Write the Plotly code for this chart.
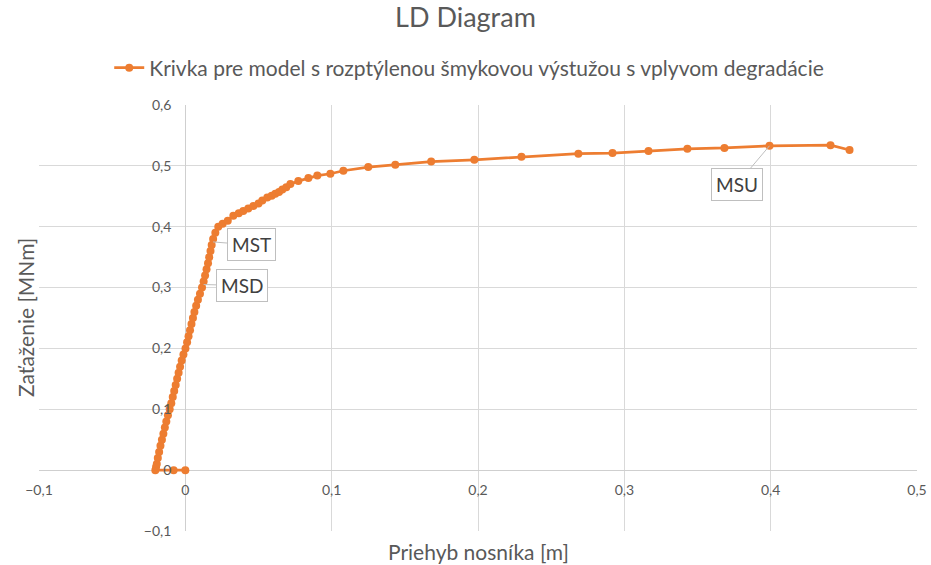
import plotly.graph_objects as go

# Data: deflection [m] and load [MNm]
deflection = [
    0.0, -0.008, -0.0205,
    -0.0200, -0.0195, -0.0188, -0.0179, -0.0170, -0.0160, -0.0150, -0.0140,
    -0.0130, -0.0119, -0.0107, -0.0096, -0.0086, -0.0076, -0.0066, -0.0056,
    -0.0046, -0.0036, -0.0025, -0.0013, 0.0001, 0.0012, 0.0022, 0.0032,
    0.0042, 0.0052, 0.0062, 0.0074, 0.0086, 0.0100, 0.0114, 0.0125,
    0.0135, 0.0145, 0.0155, 0.0163, 0.0172, 0.0180, 0.0190, 0.0205,
    0.0225, 0.0255, 0.0290, 0.0328, 0.0365, 0.0396, 0.0430, 0.0465,
    0.0500, 0.0526, 0.0560, 0.0590, 0.0615, 0.0640, 0.0663, 0.0690,
    0.0718, 0.0772, 0.0841, 0.0902, 0.0991, 0.1080, 0.1250, 0.1435,
    0.1680, 0.1975, 0.2297, 0.2686, 0.2919, 0.3165, 0.3431, 0.3684,
    0.3992, 0.4409, 0.4539,
]
load = [
    0.0, 0.0, 0.0,
    0.005, 0.010, 0.020, 0.030, 0.040, 0.050, 0.060, 0.070,
    0.080, 0.090, 0.100, 0.110, 0.120, 0.130, 0.140, 0.150,
    0.160, 0.170, 0.180, 0.190, 0.200, 0.210, 0.220, 0.230,
    0.240, 0.250, 0.260, 0.270, 0.280, 0.290, 0.300, 0.310,
    0.320, 0.330, 0.340, 0.350, 0.360, 0.370, 0.380, 0.390,
    0.400, 0.405, 0.410, 0.418, 0.422, 0.426, 0.430, 0.434,
    0.438, 0.443, 0.448, 0.451, 0.454, 0.457, 0.461, 0.465,
    0.470, 0.475, 0.480, 0.484, 0.487, 0.492, 0.498, 0.502,
    0.507, 0.510, 0.515, 0.520, 0.521, 0.5246, 0.528, 0.5295,
    0.533, 0.534, 0.526,
]

series_name = "Krivka pre model s rozptýlenou šmykovou výstužou s vplyvom degradácie"

# Callout labels: (text, x, y)
callout_text = ["MSD", "MST", "MSU"]
callout_x = [0.0125, 0.019, 0.3992]
callout_y = [0.305, 0.375, 0.533]
callout_ax = [38, 38, -33]
callout_ay = [1, 3, 39]

x_ticks = [-0.1, 0, 0.1, 0.2, 0.3, 0.4, 0.5]
y_ticks = [-0.1, 0, 0.1, 0.2, 0.3, 0.4, 0.5, 0.6]

ORANGE = "#ED7D31"
GRID = "#D9D9D9"
TXT = "#595959"
FONT = "Lato"

fig = go.Figure()
fig.add_trace(go.Scatter(
    x=deflection, y=load, mode="lines+markers", name=series_name,
    line=dict(color=ORANGE, width=2.75),
    marker=dict(color=ORANGE, size=8),
))

for t, xv, yv, ax, ay in zip(callout_text, callout_x, callout_y, callout_ax, callout_ay):
    fig.add_annotation(
        x=xv, y=yv, text=t, showarrow=True, arrowhead=0, arrowwidth=1,
        arrowcolor="#BFBFBF", ax=ax, ay=ay, bgcolor="white",
        bordercolor="#BFBFBF", borderwidth=1, borderpad=4,
        font=dict(family=FONT, size=19, color="#404040"),
    )

fig.add_annotation(text="Priehyb nosníka [m]", xref="paper", yref="paper",
                   x=0.5, y=0, yshift=-20, showarrow=False, yanchor="middle",
                   font=dict(family=FONT, size=21, color=TXT))
fig.add_annotation(text="Zaťaženie [MNm]", xref="paper", yref="paper",
                   x=0, xshift=-14, y=0.5, showarrow=False, textangle=-90,
                   xanchor="center", yanchor="middle",
                   font=dict(family=FONT, size=21, color=TXT))

fig.update_layout(
    width=931, height=565,
    paper_bgcolor="white", plot_bgcolor="white",
    separators=", ",
    margin=dict(l=39, r=14, t=105, b=34),
    title=dict(text="LD Diagram", x=0.5, xanchor="center", y=1 - 18 / 565,
               yanchor="middle", font=dict(family=FONT, size=27, color=TXT)),
    showlegend=True,
    legend=dict(orientation="h", x=0.49, xanchor="center",
                yref="container", y=1 - 68 / 565,
                yanchor="middle", font=dict(family=FONT, size=21, color=TXT)),
    xaxis=dict(range=[-0.1, 0.5], tickvals=x_ticks, showgrid=True,
               gridcolor=GRID, gridwidth=1, zeroline=True,
               zerolinecolor="#CFCFCF", zerolinewidth=1,
               anchor="free", position=1/7, showline=False,
               tickformat=".1~f", ticks="", ticklabelstandoff=10,
               ticklabeloverflow="allow",
               tickfont=dict(family=FONT, size=14, color=TXT),
               automargin=False),
    yaxis=dict(range=[-0.1, 0.6], tickvals=y_ticks, showgrid=True,
               gridcolor=GRID, gridwidth=1, zeroline=True,
               zerolinecolor="#CFCFCF", zerolinewidth=1,
               anchor="free", position=1/6, showline=False,
               tickformat=".1~f", ticks="", ticklabelstandoff=14,
               ticklabeloverflow="allow",
               tickfont=dict(family=FONT, size=14, color=TXT),
               automargin=False),
)

fig.write_html("out.html", config={"displayModeBar": False},
               post_script="document.body.style.margin='0';document.body.style.overflow='hidden';")
